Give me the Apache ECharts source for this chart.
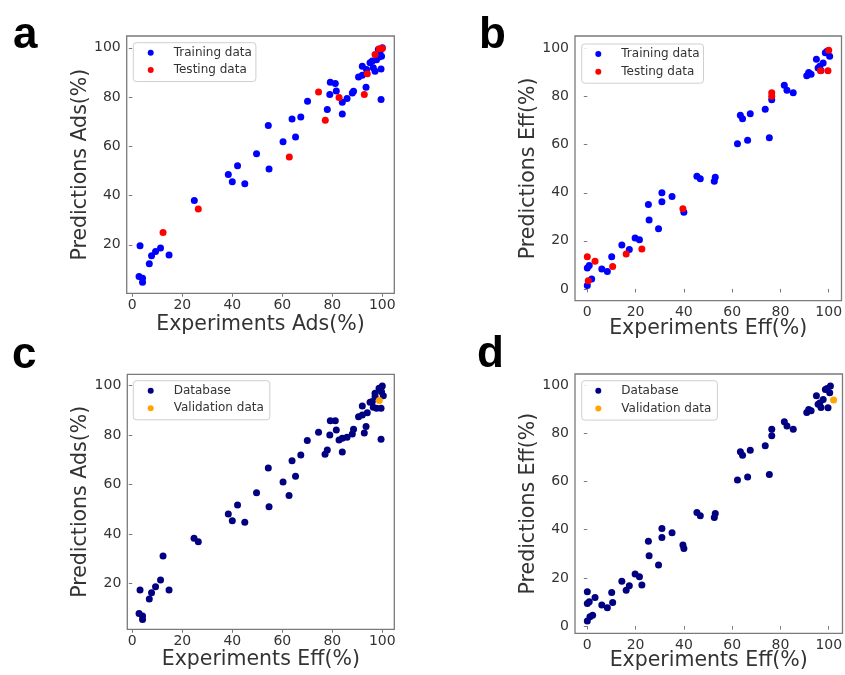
<!DOCTYPE html>
<html>
<head>
<meta charset="utf-8">
<script src="https://cdn.jsdelivr.net/npm/echarts@6/dist/echarts.min.js"></script>
<style>
  html, body { margin: 0; padding: 0; background: #fff; }
  #chart { width: 845px; height: 675px; }
</style>
</head>
<body>
<div id="chart"></div>
<script>
// Tick values shared by the panels
const xTicks = [0, 20, 40, 60, 80, 100];
const yTicksAds = [20, 40, 60, 80, 100];
const yTicksEff = [0, 20, 40, 60, 80, 100];

// Panel a: adsorption model, training / testing split
const adsTrainX = [3.1, 2.7, 4.1, 4.1, 6.8, 7.7, 9.3, 11.3, 14.7, 24.8, 38.4, 40.0, 42.1, 45.0, 49.7, 54.4, 54.7, 60.3, 63.9, 65.3, 67.4, 70.1, 78.0, 79.2, 79.0, 81.2, 81.6, 84.0, 84.0, 85.9, 88.0, 88.5, 90.5, 92.0, 92.0, 93.5, 93.7, 95.1, 96.0, 96.4, 97.1, 97.7, 98.7, 99.5, 99.5, 99.7, 100.0, 99.1, 98.4];
const adsTrainY = [19.6, 7.1, 6.4, 4.8, 12.3, 15.5, 17.3, 18.7, 15.9, 38.0, 48.5, 45.6, 52.1, 44.8, 57.0, 68.4, 50.8, 61.9, 71.1, 63.8, 71.9, 78.3, 74.9, 86.0, 81.0, 85.5, 82.5, 77.9, 73.1, 79.4, 81.7, 82.4, 88.1, 92.5, 88.9, 84.0, 91.2, 93.9, 94.6, 91.9, 90.5, 95.2, 96.3, 91.4, 79.0, 96.6, 100.0, 98.6, 99.3];
const adsTestX = [12.3, 26.4, 62.8, 74.5, 77.2, 82.7, 92.8, 94.0, 97.1, 98.8, 100.0];
const adsTestY = [25.0, 34.5, 55.7, 82.1, 70.6, 79.8, 81.0, 89.5, 97.3, 99.6, 99.7];

// Panel b: efficiency model, training / testing split
const effTrainX = [0.0, 0.0, 0.8, 1.8, 6.0, 8.3, 10.1, 14.3, 17.4, 19.8, 21.6, 25.3, 25.6, 29.5, 30.9, 30.9, 35.1, 40.0, 45.4, 46.8, 52.6, 53.0, 62.2, 63.4, 64.3, 66.4, 67.5, 73.7, 75.4, 76.4, 81.6, 82.7, 85.3, 90.9, 91.7, 92.7, 94.9, 95.6, 96.3, 97.7, 98.6, 99.3, 100.4, 96.8];
const effTrainY = [1.4, 8.7, 9.7, 4.1, 8.3, 7.2, 13.4, 18.3, 16.4, 21.2, 20.4, 35.1, 28.7, 25.0, 36.3, 40.0, 38.4, 31.9, 46.9, 45.8, 44.8, 46.5, 60.4, 72.2, 70.8, 61.8, 72.9, 74.7, 62.9, 78.7, 84.7, 82.6, 81.6, 88.7, 90.0, 89.3, 95.5, 91.9, 92.6, 94.0, 98.2, 98.9, 96.8, 90.9];
const effTestX = [0.0, 3.2, 0.4, 10.5, 16.1, 22.6, 39.6, 76.4, 76.4, 96.6, 99.7, 100.0];
const effTestY = [13.4, 11.5, 3.4, 9.3, 14.5, 16.6, 33.3, 81.6, 80.1, 90.7, 90.7, 99.3];

// Panel c: adsorption database and validation sample
const adsDbX = [3.1, 2.7, 4.1, 4.1, 6.8, 7.7, 9.3, 11.3, 12.3, 14.7, 24.7, 26.4, 38.4, 40.0, 42.1, 45.0, 49.7, 54.4, 54.7, 60.3, 62.7, 63.9, 65.3, 67.4, 70.0, 74.5, 77.1, 78.0, 79.0, 79.2, 81.2, 81.6, 82.7, 84.0, 84.0, 85.9, 88.0, 88.5, 90.5, 92.0, 92.0, 92.8, 93.5, 94.0, 95.1, 96.0, 96.4, 97.1, 97.1, 97.7, 98.7, 99.5, 99.5, 99.7, 100.0, 100.4];
const adsDbY = [17.4, 7.9, 6.9, 5.5, 13.7, 16.3, 18.7, 21.4, 31.1, 17.4, 38.3, 36.9, 48.1, 45.3, 51.7, 44.7, 56.7, 66.7, 51.0, 61.0, 55.5, 69.6, 63.3, 71.9, 77.8, 81.1, 72.2, 73.9, 80.0, 85.7, 85.7, 82.0, 78.0, 78.7, 73.1, 79.1, 80.4, 82.3, 87.4, 91.7, 88.1, 80.8, 83.4, 89.0, 93.2, 93.5, 91.2, 96.8, 95.5, 90.8, 98.9, 90.8, 78.3, 97.5, 99.8, 95.8];
const adsValX = [98.8];
const adsValY = [93.9];

// Panel d: efficiency database and validation sample
const effDbX = [0.0, 0.0, 0.0, 0.8, 1.1, 2.2, 3.2, 6.0, 8.3, 10.1, 10.5, 14.3, 16.1, 17.4, 19.8, 21.6, 22.6, 25.3, 25.6, 29.5, 30.9, 30.9, 35.1, 39.6, 40.0, 45.4, 46.8, 52.6, 53.0, 62.2, 63.4, 64.3, 66.4, 67.5, 73.7, 75.4, 76.4, 76.4, 81.6, 82.7, 85.3, 90.9, 91.7, 92.7, 94.9, 95.6, 96.3, 97.7, 98.6, 99.3, 100.4, 96.8, 99.7, 100.7];
const effDbY = [2.1, 14.2, 9.4, 10.1, 3.9, 4.5, 11.9, 8.7, 7.6, 13.9, 9.8, 18.6, 14.9, 16.7, 21.6, 20.5, 17.0, 35.2, 29.2, 25.3, 36.8, 40.5, 38.7, 33.6, 32.2, 47.1, 45.8, 45.1, 46.7, 60.6, 72.3, 70.9, 61.9, 73.0, 74.8, 62.9, 81.7, 79.0, 84.8, 83.0, 81.7, 88.6, 89.9, 89.3, 95.6, 92.0, 92.6, 94.0, 98.2, 98.6, 96.8, 90.7, 90.6, 99.6];
const effValX = [102.0];
const effValY = [93.8];

const FONT = 'DejaVu Sans';
const FRAME = '#7a7a7a';
const TEXT = '#333333';

const zip = (xs, ys) => xs.map((x, i) => [x, ys[i]]);

// Layout of the four panels (pixel boxes and axis extents)
const panels = [
  { box: { left: 126.7, top: 36, width: 267.6, height: 257.3 }, xr: [-2.24, 104.8], yr: [0.3, 104.8],
    xName: 'Experiments Ads(%)', yName: 'Predictions Ads(%)', yTicks: yTicksAds, xGap: 21, yGap: 36,
    legend: { left: 133.3, top: 42.7, pad: [3, 4, 4.5, 14.4], gap: 3.3 },
    series: [
      { name: 'Training data', color: '#0000ff', data: zip(adsTrainX, adsTrainY) },
      { name: 'Testing data', color: '#ff0000', data: zip(adsTestX, adsTestY) }
    ] },
  { box: { left: 575, top: 36, width: 266.5, height: 264.7 }, xr: [-5.1, 105.3], yr: [-4.9, 105.2],
    xName: 'Experiments Eff(%)', yName: 'Predictions Eff(%)', yTicks: yTicksEff, xGap: 17, yGap: 36,
    legend: { left: 581.7, top: 44, pad: [3, 4, 4.5, 13.6], gap: 3.7 },
    series: [
      { name: 'Training data', color: '#0000ff', data: zip(effTrainX, effTrainY) },
      { name: 'Testing data', color: '#ff0000', data: zip(effTestX, effTestY) }
    ] },
  { box: { left: 127.3, top: 374.3, width: 267, height: 255 }, xr: [-2.0, 104.8], yr: [1.5, 104.5],
    xName: 'Experiments Eff(%)', yName: 'Predictions Ads(%)', yTicks: yTicksAds, xGap: 20, yGap: 36,
    legend: { left: 133.3, top: 380.7, pad: [3, 6, 4.5, 14.4], gap: 3.6 },
    series: [
      { name: 'Database', color: '#000080', data: zip(adsDbX, adsDbY) },
      { name: 'Validation data', color: '#ffa500', data: zip(adsValX, adsValY) }
    ] },
  { box: { left: 575, top: 374, width: 267.5, height: 259.3 }, xr: [-5.1, 105.7], yr: [-3.0, 104.6],
    xName: 'Experiments Eff(%)', yName: 'Predictions Eff(%)', yTicks: yTicksEff, xGap: 17, yGap: 36,
    legend: { left: 581.7, top: 380.7, pad: [3, 6, 4.5, 13.6], gap: 3.9 },
    series: [
      { name: 'Database', color: '#000080', data: zip(effDbX, effDbY) },
      { name: 'Validation data', color: '#ffa500', data: zip(effValX, effValY) }
    ] }
];

const option = {
  animation: false,
  backgroundColor: '#ffffff',
  grid: [], xAxis: [], yAxis: [], series: [], legend: [],
  graphic: []
};

panels.forEach((p, i) => {
  option.grid.push(Object.assign({
    show: true, borderColor: FRAME, borderWidth: 1.3, backgroundColor: 'transparent',
    containLabel: false, outerBoundsMode: 'none'
  }, p.box));

  const tickStyle = { show: true, inside: false, length: 3.5, lineStyle: { color: FRAME, width: 1 } };
  const labelStyle = { color: TEXT, fontSize: 14, fontFamily: FONT };

  option.xAxis.push({
    type: 'value', gridIndex: i, min: p.xr[0], max: p.xr[1],
    axisLine: { show: false }, splitLine: { show: false },
    axisTick: Object.assign({ customValues: xTicks }, tickStyle),
    axisLabel: Object.assign({ customValues: xTicks, margin: 5 }, labelStyle),
    name: p.xName, nameLocation: 'middle', nameGap: p.xGap, nameMoveOverlap: false,
    nameTextStyle: { color: TEXT, fontSize: 20.5, fontFamily: FONT, verticalAlign: 'top' }
  });
  option.yAxis.push({
    type: 'value', gridIndex: i, min: p.yr[0], max: p.yr[1],
    axisLine: { show: false }, splitLine: { show: false },
    axisTick: Object.assign({ customValues: p.yTicks }, tickStyle),
    axisLabel: Object.assign({ customValues: p.yTicks, margin: 6 }, labelStyle),
    name: p.yName, nameLocation: 'middle', nameGap: p.yGap, nameRotate: 90, nameMoveOverlap: false,
    nameTextStyle: { color: TEXT, fontSize: 20.5, fontFamily: FONT }
  });

  p.series.forEach((s, k) => {
    option.series.push({
      type: 'scatter', name: s.name, xAxisIndex: i, yAxisIndex: i,
      data: s.data, symbol: 'circle', symbolSize: 7, z: 2 + k,
      itemStyle: { color: s.color, opacity: 1 },
      emphasis: { disabled: true }
    });
  });

  option.legend.push({
    left: p.legend.left, top: p.legend.top, orient: 'vertical',
    data: p.series.map(s => ({ name: s.name, icon: 'circle', itemStyle: { color: s.color } })),
    itemWidth: 6, itemHeight: 6, itemGap: p.legend.gap,
    padding: p.legend.pad,
    backgroundColor: 'rgba(255,255,255,0.85)', borderColor: '#cfcfcf', borderWidth: 1, borderRadius: 3,
    selectedMode: false,
    textStyle: { color: TEXT, fontSize: 12, fontFamily: FONT, lineHeight: 14, padding: [0, 0, 0, 15] }
  });
});

// Panel letters
const letters = [
  { t: 'a', x: 13, y: 47 },
  { t: 'b', x: 479, y: 47 },
  { t: 'c', x: 12, y: 367 },
  { t: 'd', x: 477, y: 366 }
];
letters.forEach(l => {
  option.graphic.push({
    type: 'text', left: l.x, top: l.y - 33,
    style: { text: l.t, font: 'bold 44px "Liberation Sans", Arial, sans-serif', fill: '#000' }
  });
});

const chart = echarts.init(document.getElementById('chart'), null, { renderer: 'canvas' });
chart.setOption(option);
</script>
</body>
</html>
